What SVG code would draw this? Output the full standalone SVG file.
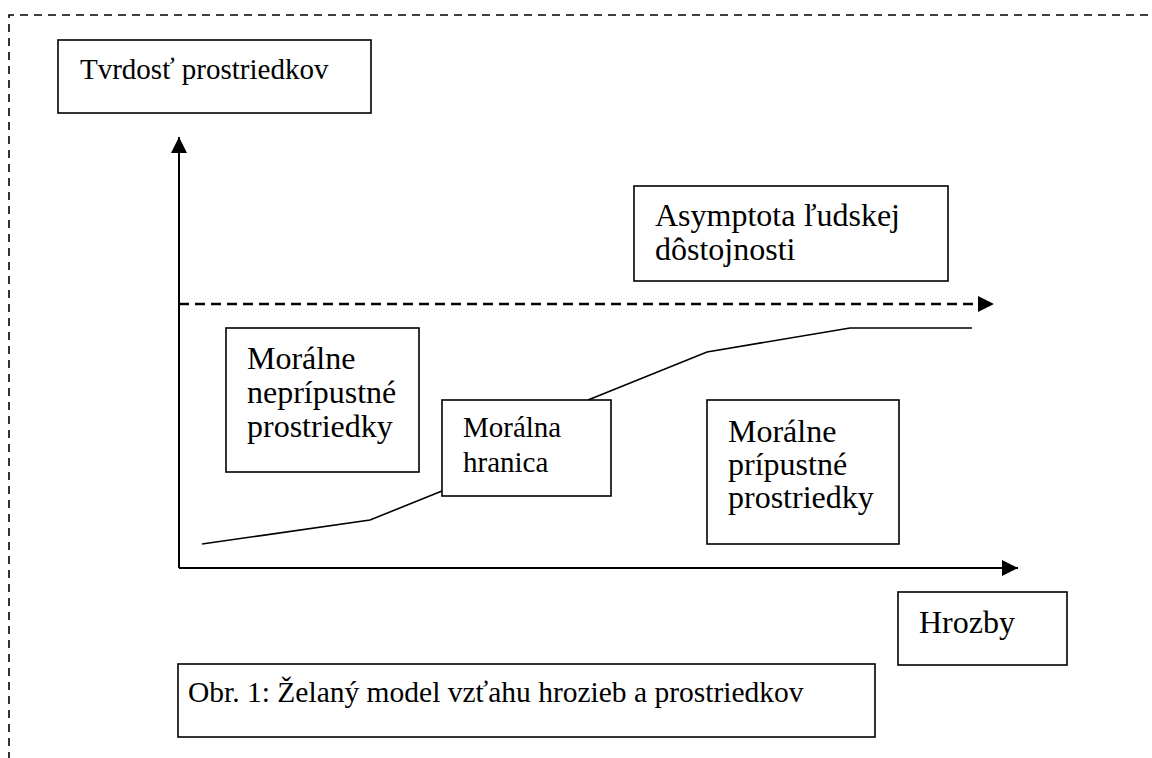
<svg xmlns="http://www.w3.org/2000/svg" width="1152" height="758" viewBox="0 0 1152 758">
<defs>
<style>
.box{fill:#fff;stroke:#000;stroke-width:1.6}
.t{font-family:"Liberation Serif","Times New Roman",serif;fill:#000}
.ax{fill:none;stroke:#000;stroke-width:2}
.ln{fill:none;stroke:#000;stroke-width:1.6}
</style>
<marker id="ah" viewBox="0 0 16 16" refX="16" refY="8" markerWidth="16" markerHeight="16" markerUnits="userSpaceOnUse" orient="auto">
<path d="M0,0 L16,8 L0,16 Z" fill="#000"/>
</marker>
</defs>
<rect width="1152" height="758" fill="#fff"/>
<path d="M9,760 V15 H1160" fill="none" stroke="#000" stroke-width="1.6" stroke-dasharray="8 6"/>
<g id="connectors">
<path class="ax" d="M179,568 V137" marker-end="url(#ah)"/>
<path class="ax" d="M179,568 H1018" marker-end="url(#ah)"/>
<path d="M179,304 H994" fill="none" stroke="#000" stroke-width="2.5" stroke-dasharray="10 6" marker-end="url(#ah)"/>
<polyline class="ln" points="202,544 370,520 442,491"/>
<polyline class="ln" points="588,400 707,352 850,328 972,328"/>
</g>
<g id="tvrdost">
<rect class="box" x="58" y="40" width="313" height="73"/>
<text class="t" x="80" y="79" font-size="29">Tvrdosť prostriedkov</text>
</g>
<g id="asymptota">
<rect class="box" x="634" y="186" width="314" height="95"/>
<text class="t" x="655" y="226" font-size="32">Asymptota ľudskej</text>
<text class="t" x="655" y="260" font-size="32">dôstojnosti</text>
</g>
<g id="nepripustne">
<rect class="box" x="226" y="328" width="193" height="144"/>
<text class="t" x="247" y="369" font-size="32">Morálne</text>
<text class="t" x="247" y="403" font-size="32">neprípustné</text>
<text class="t" x="247" y="437" font-size="32">prostriedky</text>
</g>
<g id="hranica">
<rect class="box" x="442" y="400" width="169" height="96"/>
<text class="t" x="463" y="437" font-size="29">Morálna</text>
<text class="t" x="463" y="472" font-size="29">hranica</text>
</g>
<g id="pripustne">
<rect class="box" x="707" y="400" width="192" height="144"/>
<text class="t" x="728" y="442" font-size="32">Morálne</text>
<text class="t" x="728" y="475" font-size="32">prípustné</text>
<text class="t" x="728" y="508" font-size="32">prostriedky</text>
</g>
<g id="hrozby">
<rect class="box" x="898" y="592" width="169" height="73"/>
<text class="t" x="919" y="633" font-size="32">Hrozby</text>
</g>
<g id="caption">
<rect class="box" x="178" y="664" width="697" height="73"/>
<text class="t" x="188" y="702" font-size="29.5">Obr. 1: Želaný model vzťahu hrozieb a prostriedkov</text>
</g>
</svg>
